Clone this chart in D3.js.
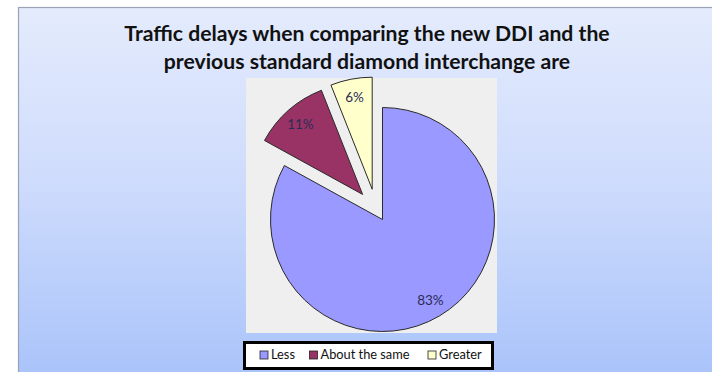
<!DOCTYPE html>
<html>
<head>
<meta charset="utf-8">
<script src="https://cdn.jsdelivr.net/npm/d3@7/dist/d3.min.js"></script>
<style>
  html, body { margin: 0; padding: 0; background: #ffffff; }
  svg { display: block; }
  text { font-family: Lato, "Open Sans", "DejaVu Sans", sans-serif; }
</style>
</head>
<body>
<svg id="chart" width="712" height="372"></svg>
<script>
// Survey answers: traffic delays with the new DDI vs. the old diamond interchange
const titleLines = [
  "Traffic delays when comparing the new DDI and the",
  "previous standard diamond interchange are"
];
const categories = ["Less", "About the same", "Greater"];
const shares = [83, 11, 6];
const sliceColors = ["#9999ff", "#993366", "#ffffcc"];

const W = 712, H = 372;
const svg = d3.select("#chart");

// Background panel with vertical blue gradient
const defs = svg.append("defs");
const grad = defs.append("linearGradient")
  .attr("id", "panelGrad").attr("x1", 0).attr("y1", 0).attr("x2", 0).attr("y2", 1);
grad.append("stop").attr("offset", "0%").attr("stop-color", "#e4ebfc");
grad.append("stop").attr("offset", "45%").attr("stop-color", "#cfdcfc");
grad.append("stop").attr("offset", "100%").attr("stop-color", "#a9c3fa");

svg.append("rect")
  .attr("x", 18.5).attr("y", 7.5)
  .attr("width", W).attr("height", H)
  .attr("fill", "url(#panelGrad)")
  .attr("stroke", "#9aa3b5").attr("stroke-width", 1.2);

// Title
const title = svg.append("text")
  .attr("text-anchor", "middle")
  .attr("font-weight", "bold")
  .attr("font-size", 21.2)
  .attr("fill", "#111");
titleLines.forEach((line, i) => {
  title.append("tspan").attr("x", 367).attr("y", 41 + i * 28).text(line);
});

// Plot area
const plot = { x: 246, y: 78, w: 251, h: 255 };
svg.append("rect")
  .attr("x", plot.x).attr("y", plot.y)
  .attr("width", plot.w).attr("height", plot.h)
  .attr("fill", "#efefef");

// Pie (the two small slices are pulled out from the centre)
const cx = 382.5, cy = 219.5, R = 112;
const explodeDist = [0, 32, 32];
const explodeTurnDeg = [0, 3, -8];

const pie = d3.pie().sort(null).value(d => d.v).startAngle(0).endAngle(2 * Math.PI);
const arcs = pie(categories.map((c, i) => ({ c, v: shares[i], i })));
const arc = d3.arc().innerRadius(0).outerRadius(R);

const g = svg.append("g").attr("transform", `translate(${cx},${cy})`);
const slices = g.selectAll("g.slice").data(arcs).join("g")
  .attr("class", "slice")
  .attr("transform", d => {
    const dist = explodeDist[d.data.i];
    const a = (d.startAngle + d.endAngle) / 2 + explodeTurnDeg[d.data.i] * Math.PI / 180;
    return `translate(${dist * Math.sin(a)},${-dist * Math.cos(a)})`;
  });

slices.append("path")
  .attr("d", arc)
  .attr("fill", d => sliceColors[d.data.i])
  .attr("stroke", "#2a2a2a")
  .attr("stroke-width", 1)
  .attr("stroke-linejoin", "miter");

const labelArc = d3.arc().innerRadius(R * 0.84).outerRadius(R * 0.84);
slices.append("text")
  .attr("transform", d => `translate(${labelArc.centroid(d)})`)
  .attr("text-anchor", "middle")
  .attr("dy", "0.35em")
  .attr("font-size", 13.5)
  .attr("fill", "#2b2b55")
  .text(d => d.data.v + "%");

// Legend
const legend = { x: 244.5, y: 342.5, w: 248, h: 26 };
svg.append("rect")
  .attr("x", legend.x).attr("y", legend.y)
  .attr("width", legend.w).attr("height", legend.h)
  .attr("fill", "#ffffff")
  .attr("stroke", "#000").attr("stroke-width", 3);

const legendX = [260, 309.5, 428];
const lg = svg.append("g");
categories.forEach((c, i) => {
  lg.append("rect")
    .attr("x", legendX[i]).attr("y", 351)
    .attr("width", 8).attr("height", 8)
    .attr("fill", sliceColors[i])
    .attr("stroke", "#222").attr("stroke-width", 0.8);
  lg.append("text")
    .attr("x", legendX[i] + 11).attr("y", 355)
    .attr("dy", "0.35em")
    .attr("font-size", 12.8)
    .attr("fill", "#111")
    .text(c);
});
</script>
</body>
</html>
